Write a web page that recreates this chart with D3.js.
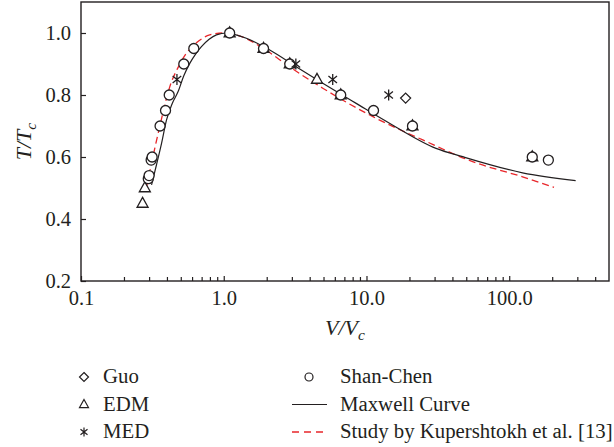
<!DOCTYPE html>
<html><head><meta charset="utf-8">
<script src="https://cdn.jsdelivr.net/npm/d3@7"></script>
<style>
html,body{margin:0;padding:0;background:#fff;}
svg{display:block;}
svg text{font-family:"Liberation Serif","Times New Roman",Times,"DejaVu Serif",serif !important;fill:#231f20;}
</style></head>
<body>
<svg id="chart" width="614" height="447"></svg>
<script>
// ---- data ----
const xMajorTicks = [0.1, 1, 10, 100];
const xTickLabels = ["0.1", "1.0", "10.0", "100.0"];
const xMinorTicks = [0.2,0.3,0.4,0.5,0.6,0.7,0.8,0.9,2,3,4,5,6,7,8,9,20,30,40,50,60,70,80,90,200,300,400];
const yTicks = [0.2, 0.4, 0.6, 0.8, 1.0];
const yTickLabels = ["0.2", "0.4", "0.6", "0.8", "1.0"];

const guoV = [18.8];
const guoT = [0.79];

const edmV = [0.27, 0.28, 1.1, 1.9, 2.9, 4.5, 6.6, 21, 145];
const edmT = [0.45, 0.50, 1.0, 0.95, 0.90, 0.85, 0.80, 0.70, 0.60];

const medV = [0.47, 3.2, 5.8, 14.3];
const medT = [0.85, 0.90, 0.85, 0.80];

const scV = [0.296, 0.30, 0.31, 0.315, 0.358, 0.391, 0.415, 0.525, 0.617, 1.1, 1.9, 2.9, 6.6, 11.2, 21, 145, 188];
const scT = [0.53, 0.54, 0.59, 0.60, 0.70, 0.75, 0.80, 0.90, 0.95, 1.0, 0.95, 0.90, 0.80, 0.75, 0.70, 0.60, 0.59];

const maxwellV = [0.312, 0.338, 0.367, 0.397, 0.435, 0.479, 0.525, 0.578, 0.635, 0.698, 0.79, 0.889, 1.05, 1.2, 1.44, 2.1, 3.3, 4.94, 8.47, 14.5, 30.7, 47.2, 124, 292];
const maxwellT = [0.51, 0.575, 0.645, 0.719, 0.772, 0.811, 0.862, 0.902, 0.932, 0.956, 0.98, 0.994, 1.0, 0.995, 0.983, 0.945, 0.888, 0.838, 0.773, 0.709, 0.628, 0.601, 0.549, 0.524];

const kupV = [0.288, 0.312, 0.356, 0.419, 0.48, 0.548, 0.65, 0.798, 1.0, 1.3, 1.9, 2.89, 4.94, 11.1, 24.8, 55.4, 124, 206];
const kupT = [0.504, 0.58, 0.698, 0.827, 0.89, 0.935, 0.97, 0.994, 1.0, 0.99, 0.95, 0.891, 0.822, 0.73, 0.655, 0.585, 0.536, 0.502];

// ---- layout ----
const FONT = "'Liberation Serif', 'Times New Roman', Times, serif";
const svg = d3.select("#chart");
const L = 81, R = 609, T = 2, B = 281;
const x = d3.scaleLog().domain([0.1, 500]).range([L, R]);
const y = d3.scaleLinear().domain([0.2, 1.1]).range([B, T]);
const ink = "#231f20";
const red = "#e8262a";

// axes
const gx = svg.append("g").attr("transform", `translate(0,${B})`)
  .call(d3.axisBottom(x).tickValues(xMajorTicks).tickSize(-5).tickFormat((d,i)=>xTickLabels[i]));
gx.attr("font-family", FONT);
gx.select(".domain").remove();
gx.selectAll("line").attr("stroke", ink).attr("stroke-width", 1.2);
gx.selectAll("text").attr("y", 0).attr("dy", 24).attr("font-size", 20.5)
  .style("font-family", FONT).attr("fill", ink);

const gxm = svg.append("g").attr("transform", `translate(0,${B})`)
  .call(d3.axisBottom(x).tickValues(xMinorTicks).tickSize(-4).tickFormat(""));
gxm.select(".domain").remove();
gxm.selectAll("line").attr("stroke", ink).attr("stroke-width", 1.2);

const gy = svg.append("g").attr("transform", `translate(${L},0)`)
  .call(d3.axisLeft(y).tickValues(yTicks).tickSize(-5).tickFormat((d,i)=>yTickLabels[i]));
gy.attr("font-family", FONT);
gy.select(".domain").remove();
gy.selectAll("line").attr("stroke", ink).attr("stroke-width", 1.2);
gy.selectAll("text").attr("x", -10).attr("dy", "0.34em").attr("font-size", 20.5)
  .style("font-family", FONT).attr("fill", ink);

// frame
svg.append("rect").attr("x", L).attr("y", T).attr("width", R - L).attr("height", B - T)
  .attr("fill", "none").attr("stroke", ink).attr("stroke-width", 1.4);

// axis titles
const xt = svg.append("text").attr("x", (L + R) / 2).attr("y", 335).attr("text-anchor", "middle")
  .attr("font-size", 22).attr("font-style", "italic").style("font-family", FONT);
xt.append("tspan").text("V/V");
xt.append("tspan").attr("font-size", 15.5).attr("dy", 5).text("c");

const yt = svg.append("text").attr("transform", `translate(31,${(T + B) / 2}) rotate(-90)`)
  .attr("text-anchor", "middle").attr("font-size", 22).attr("font-style", "italic").style("font-family", FONT);
yt.append("tspan").text("T/T");
yt.append("tspan").attr("font-size", 15.5).attr("dy", 5).text("c");

// lines
const line = d3.line().x(d => x(d[0])).y(d => y(d[1]));
const mx = maxwellV.map((v, i) => [v, maxwellT[i]]);
const kp = kupV.map((v, i) => [v, kupT[i]]);
const plot = svg.append("g");
plot.append("path").datum(kp).attr("d", line.curve(d3.curveMonotoneX)).attr("fill", "none")
  .attr("stroke", red).attr("stroke-width", 1.3).attr("stroke-dasharray", "7,4");
plot.append("path").datum(mx).attr("d", line.curve(d3.curveMonotoneX)).attr("fill", "none")
  .attr("stroke", ink).attr("stroke-width", 1.2);

// symbol paths
function triPath(s) { const h = s * 0.9; return `M0,${-h*0.62}L${s/2},${h*0.38}L${-s/2},${h*0.38}Z`; }
function diaPath(s) { const h = s / 2; return `M0,${-h}L${h},0L0,${h}L${-h},0Z`; }
function astPath(s) {
  const a = s * 0.78, b = s * 0.62;
  return `M0,${-s}L0,${s}M${-a},${-b}L${a},${b}M${-a},${b}L${a},${-b}`;
}

// markers
plot.selectAll(".edm").data(edmV.map((v,i)=>[v, edmT[i]])).join("path")
  .attr("transform", d => `translate(${x(d[0])},${y(d[1])})`).attr("d", triPath(11))
  .attr("fill", "white").attr("stroke", ink).attr("stroke-width", 1.3);
plot.selectAll(".sc").data(scV.map((v,i)=>[v, scT[i]])).join("circle")
  .attr("cx", d => x(d[0])).attr("cy", d => y(d[1])).attr("r", 5)
  .attr("fill", "white").attr("stroke", ink).attr("stroke-width", 1.3);
plot.selectAll(".med").data(medV.map((v,i)=>[v, medT[i]])).join("path")
  .attr("transform", d => `translate(${x(d[0])},${y(d[1])})`).attr("d", astPath(5.5))
  .attr("fill", "none").attr("stroke", ink).attr("stroke-width", 1.3);
plot.selectAll(".guo").data(guoV.map((v,i)=>[v, guoT[i]])).join("path")
  .attr("transform", d => `translate(${x(d[0])},${y(d[1])})`).attr("d", diaPath(10))
  .attr("fill", "white").attr("stroke", ink).attr("stroke-width", 1.3);

// legend
const legendNames = ["Guo", "EDM", "MED", "Shan-Chen", "Maxwell Curve", "Study by Kupershtokh et al. [13]"];
const rowsY = [383, 410.5, 438];
const lg = svg.append("g");
function legText(xp, yp, t) {
  lg.append("text").attr("x", xp).attr("y", yp).attr("font-size", 20.8).style("font-family", FONT).text(t);
}
lg.append("path").attr("transform", `translate(84,${rowsY[0]-6})`).attr("d", diaPath(9))
  .attr("fill", "none").attr("stroke", ink).attr("stroke-width", 1.2);
lg.append("path").attr("transform", `translate(84,${rowsY[1]-6})`).attr("d", triPath(9))
  .attr("fill", "none").attr("stroke", ink).attr("stroke-width", 1.2);
lg.append("path").attr("transform", `translate(84,${rowsY[2]-6})`).attr("d", astPath(4.5))
  .attr("fill", "none").attr("stroke", ink).attr("stroke-width", 1.2);
legText(103, rowsY[0], legendNames[0]);
legText(103, rowsY[1], legendNames[1]);
legText(103, rowsY[2], legendNames[2]);
lg.append("circle").attr("cx", 309).attr("cy", rowsY[0]-6).attr("r", 4)
  .attr("fill", "none").attr("stroke", ink).attr("stroke-width", 1.2);
lg.append("line").attr("x1", 292).attr("x2", 327).attr("y1", rowsY[1]-6).attr("y2", rowsY[1]-6)
  .attr("stroke", ink).attr("stroke-width", 1.2);
lg.append("line").attr("x1", 292).attr("x2", 327).attr("y1", rowsY[2]-6).attr("y2", rowsY[2]-6)
  .attr("stroke", red).attr("stroke-width", 1.3).attr("stroke-dasharray", "7,5");
legText(340, rowsY[0], legendNames[3]);
legText(340, rowsY[1], legendNames[4]);
legText(340, rowsY[2], legendNames[5]);
</script>
</body></html>
